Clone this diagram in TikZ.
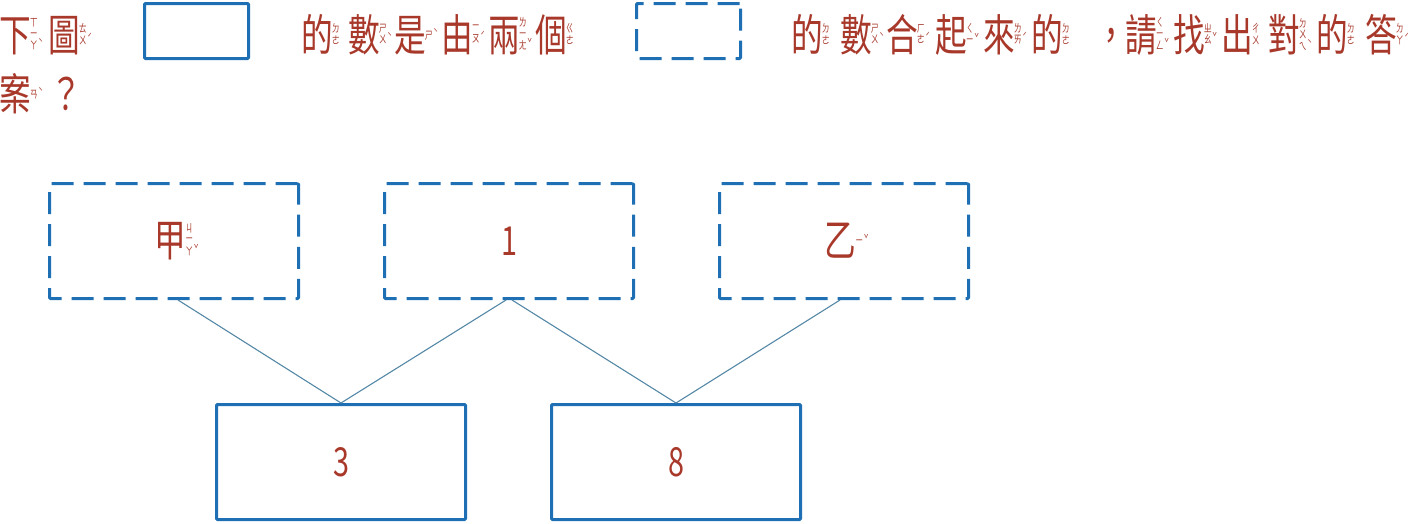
\documentclass[tikz,border=0pt]{standalone}
\usepackage{fontspec}
\usepackage{graphicx}
\newfontfamily\cjk[FakeStretch=0.72]{Noto Sans CJK TC}
\newfontfamily\cjkvert[FakeStretch=0.72,RawFeature=+vert]{Noto Sans CJK TC}
\definecolor{ink}{HTML}{A8382A}
\definecolor{boxblue}{HTML}{1E6FB3}
\definecolor{wire}{HTML}{5488A6}
\newcommand\bigfont{\fontsize{44}{52}\cjk}
\newcommand\numfont{\fontsize{40}{48}\cjk}
% bopomofo ㄧ takes its vertical-writing form (a horizontal stroke) in a column
\newcommand\yi{{\cjkvert ㄧ}}
\newsavebox\zybox
% vertical zhuyin column: rows separated by \cr, tone mark after the last row
\newcommand\zystack[2]{\vbox{\fontsize{11}{11}\cjk\baselineskip=11.5pt\lineskiplimit=-20pt\lineskip=0pt
  \halign{\hfil##\hfil\cr#1\rlap{\kern0.5pt\raisebox{2pt}{#2}}\cr}}}
% character followed by its zhuyin, centred on the character
\newcommand\zy[3]{#1\kern-1pt\sbox\zybox{\zystack{#2}{#3}}%
  \raisebox{\dimexpr17pt-\ht\zybox/2+\dp\zybox/2\relax}{\usebox\zybox}}
\begin{document}
\begin{tikzpicture}[x=1pt,y=-1pt,
  txt/.style={inner sep=0pt, anchor=base west, text=ink, font=\bigfont},
  solidbox/.style={draw=boxblue, line width=3pt, inner sep=0pt, rounded corners=1pt,
    minimum width=249pt, minimum height=115pt, text=ink, font=\numfont},
  dashbox/.style={solidbox, dash pattern=on 22pt off 10pt},
  smallbox/.style={minimum width=104pt, minimum height=55pt},
  wireline/.style={draw=wire, line width=1.1pt}]
\useasboundingbox (0,0) rectangle (1413,523);

% question text, first line
\node[txt] (t1) at (-1,51) {\zy{下}{ㄒ\cr\yi\cr ㄚ}{ˋ}};
\node[txt] (t2) at (48,51) {\zy{圖}{ㄊ\cr ㄨ}{ˊ}};
\node[solidbox, smallbox] (keybox) at (196.5,31) {};
\node[txt] (t3) at (301,51) {\zy{的}{ㄉ\cr ㄜ}{}};
\node[txt] (t4) at (348,51) {\zy{數}{ㄕ\cr ㄨ}{ˋ}};
\node[txt] (t5) at (394,51) {\zy{是}{ㄕ}{ˋ}};
\node[txt] (t6) at (441,51) {\zy{由}{\yi\cr ㄡ}{ˊ}};
\node[txt] (t7) at (488,51) {\zy{兩}{ㄌ\cr\yi\cr ㄤ}{ˇ}};
\node[txt] (t8) at (535,51) {\zy{個}{ㄍ\cr ㄜ}{}};
\node[dashbox, smallbox] (partbox) at (688.5,31) {};
\node[txt] (t9) at (791,51) {\zy{的}{ㄉ\cr ㄜ}{}};
\node[txt] (t10) at (840,51) {\zy{數}{ㄕ\cr ㄨ}{ˋ}};
\node[txt] (t11) at (886,51) {\zy{合}{ㄏ\cr ㄜ}{ˊ}};
\node[txt] (t12) at (935,51) {\zy{起}{ㄑ\cr\yi}{ˇ}};
\node[txt] (t13) at (983,51) {\zy{來}{ㄌ\cr ㄞ}{ˊ}};
\node[txt] (t14) at (1031,51) {\zy{的}{ㄉ\cr ㄜ}{}};
\node[txt] (t15) at (1095,51) {，};
\node[txt] (t16) at (1125,51) {\zy{請}{ㄑ\cr\yi\cr ㄥ}{ˇ}};
\node[txt] (t17) at (1173,51) {\zy{找}{ㄓ\cr ㄠ}{ˇ}};
\node[txt] (t18) at (1221,51) {\zy{出}{ㄔ\cr ㄨ}{}};
\node[txt] (t19) at (1268,51) {\zy{對}{ㄉ\cr ㄨ\cr ㄟ}{ˋ}};
\node[txt] (t20) at (1316,51) {\zy{的}{ㄉ\cr ㄜ}{}};
\node[txt] (t21) at (1365,51) {\zy{答}{ㄉ\cr ㄚ}{ˊ}};
% second line
\node[txt] (t22) at (-1,110) {\zy{案}{ㄢ}{ˋ}};
\node[txt] (t23) at (50,110) {？};

% number tree
\node[dashbox] (jia) at (174,241) {\bigfont\zy{甲}{ㄐ\cr\yi\cr ㄚ}{ˇ}};
\node[dashbox] (one) at (509,241) {1};
\node[dashbox] (yi) at (844,241) {\bigfont\zy{乙}{\yi}{ˇ}};
\node[solidbox] (three) at (341,462) {3};
\node[solidbox] (eight) at (676,462) {8};

\draw[wireline] ([xshift=4pt]jia.south) -- (three.north);
\draw[wireline] ([xshift=-3pt]one.south) -- (three.north);
\draw[wireline] ([xshift=3pt]one.south) -- (eight.north);
\draw[wireline] ([xshift=-4pt]yi.south) -- (eight.north);
\end{tikzpicture}
\end{document}
